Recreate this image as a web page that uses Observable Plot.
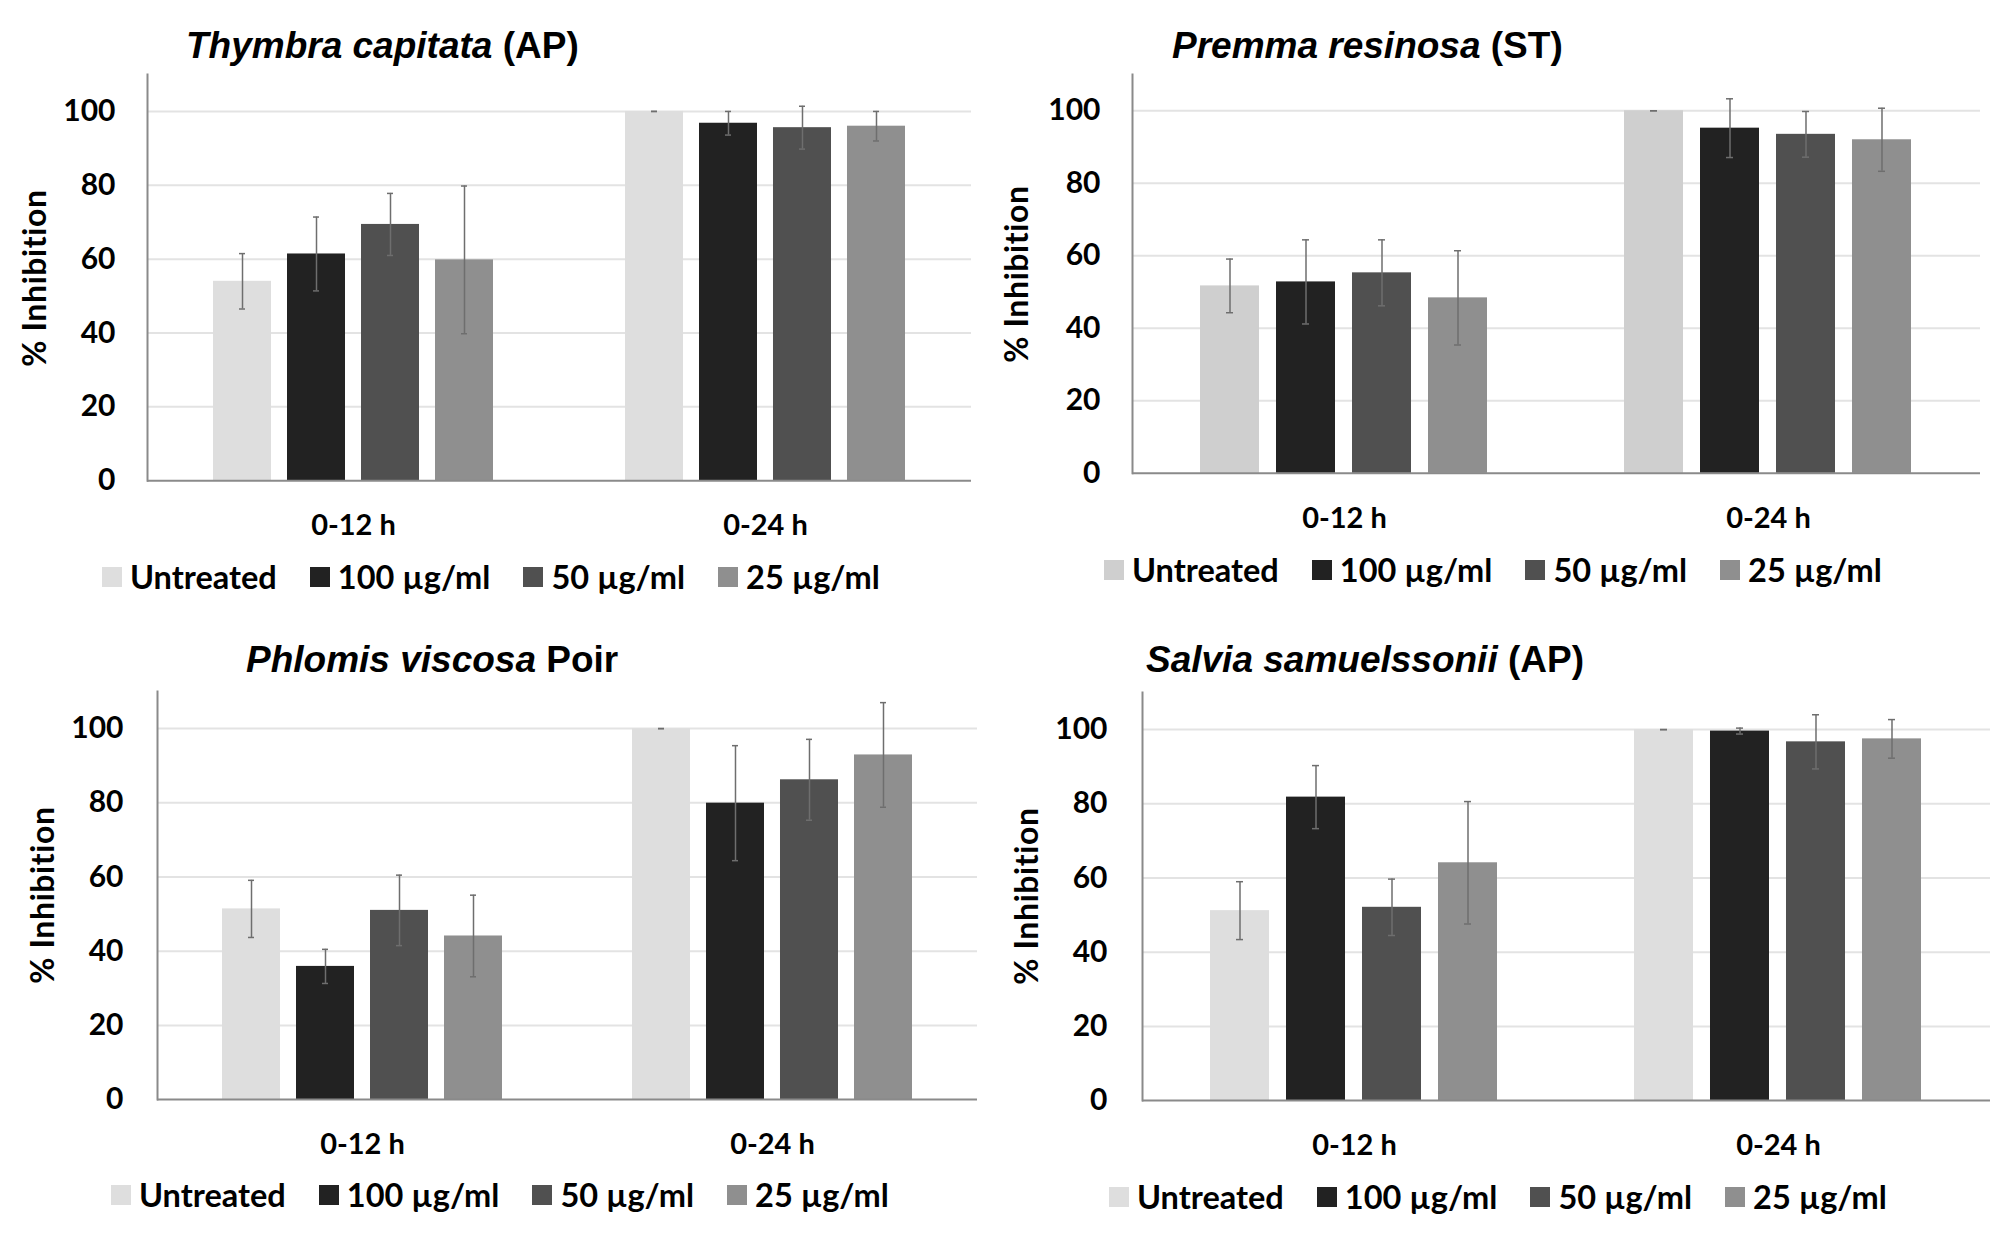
<!DOCTYPE html>
<html><head><meta charset="utf-8">
<script src="https://cdn.jsdelivr.net/npm/d3@7"></script>
<script src="https://cdn.jsdelivr.net/npm/@observablehq/plot@0.6"></script>
<style>
body{margin:0;background:#fff;}
#root{position:relative;width:2008px;height:1234px;overflow:hidden;background:#fff;font-family:Lato,"Open Sans",sans-serif;color:#000;}
.title{position:absolute;font-family:"Liberation Sans",Arial,sans-serif;font-weight:bold;font-size:37px;line-height:1;white-space:nowrap;}
.ylab{position:absolute;font-family:Lato,sans-serif;font-weight:bold;font-size:32px;letter-spacing:0.6px;line-height:1;white-space:nowrap;transform:translate(-50%,-50%) rotate(-90deg);}
.legend{position:absolute;display:flex;align-items:center;gap:33px;font-family:Lato,sans-serif;font-weight:bold;font-size:32.5px;line-height:1;white-space:nowrap;}
.item{display:flex;align-items:center;}
.sw{width:20px;height:20px;margin-right:8px;}
.panel{position:absolute;}
</style></head><body><div id="root"></div><script>
const times = ["0-12 h", "0-24 h"];
const treatments = ["Untreated", "100 µg/ml", "50 µg/ml", "25 µg/ml"];
const yTicks = [0, 20, 40, 60, 80, 100];
const titleItalic = ["Thymbra capitata", "Premma resinosa", "Phlomis viscosa", "Salvia samuelssonii"];
const titlePlain = [" (AP)", " (ST)", " Poir", " (AP)"];
// mean[time][treatment], err[time][treatment]
const thymbraMean = [[54.0, 61.4, 69.4, 59.8], [100, 96.8, 95.6, 96.0]];
const thymbraErr  = [[7.5, 10.0, 8.4, 20.0], [0, 3.2, 5.8, 4.0]];
const premmaMean  = [[51.7, 52.8, 55.3, 48.4], [100, 95.2, 93.5, 92.0]];
const premmaErr   = [[7.4, 11.6, 9.1, 13.0], [0, 8.1, 6.3, 8.7]];
const phlomisMean = [[51.4, 35.9, 51.0, 44.1], [100, 79.9, 86.2, 92.9]];
const phlomisErr  = [[7.7, 4.6, 9.5, 11.0], [0, 15.5, 10.9, 14.1]];
const salviaMean  = [[51.2, 81.8, 52.1, 64.1], [100, 99.6, 96.7, 97.5]];
const salviaErr   = [[7.8, 8.5, 7.6, 16.5], [0, 0.8, 7.3, 5.2]];
const greysA = ["#dedede", "#222222", "#505050", "#8f8f8f"];
const greysB = ["#cfcfcf", "#222222", "#505050", "#8f8f8f"];

const panels = [
  {i:0, mean: thymbraMean, err: thymbraErr, colors: greysA, svgLeft:0, axisX:147, right:971, y0:480, y100:110.7, tickPad:32,
   titleX:186, titleBase:58, ylabX:34, ylabY:278, legX:102, legY:577},
  {i:1, mean: premmaMean, err: premmaErr, colors: greysB, svgLeft:1004, axisX:1131, right:1980, y0:473.3, y100:110.7, tickPad:32,
   titleX:1172, titleBase:58, ylabX:1016, ylabY:274, legX:1104, legY:570},
  {i:2, mean: phlomisMean, err: phlomisErr, colors: greysA, svgLeft:0, axisX:156, right:977, y0:1098.7, y100:727.7, tickPad:34,
   titleX:246, titleBase:672, ylabX:42, ylabY:895, legX:111, legY:1195},
  {i:3, mean: salviaMean, err: salviaErr, colors: greysA, svgLeft:1004, axisX:1142, right:1990, y0:1100, y100:729, tickPad:35,
   titleX:1146, titleBase:672, ylabX:1026, ylabY:896, legX:1109, legY:1197}
];

const root = document.getElementById("root");

for (const cfg of panels) {
  const rows = [];
  times.forEach((t, a) => treatments.forEach((tr, b) => rows.push({time: t, treatment: tr, mean: cfg.mean[a][b], err: cfg.err[a][b]})));
  const k = (cfg.y0 - cfg.y100) / 100;
  const yMax = 110;
  const mt = 10, mb = 75;
  const plotTop = cfg.y0 - yMax * k;
  const width = 1004;
  const height = mt + yMax * k + mb;
  const errStyle = {stroke: "#6e6e6e", strokeWidth: 1.5};
  const chart = Plot.plot({
    width, height,
    marginLeft: cfg.axisX - cfg.svgLeft,
    marginRight: cfg.svgLeft + width - cfg.right,
    marginTop: mt, marginBottom: mb,
    style: {background: "transparent", fontFamily: "Lato, sans-serif", fontWeight: "bold", color: "#000", overflow: "visible"},
    fx: {domain: times, padding: 0},
    x: {domain: treatments, paddingInner: 0.22, paddingOuter: 0.87, axis: null},
    y: {domain: [0, yMax]},
    color: {domain: treatments, range: cfg.colors},
    marks: [
      Plot.gridY(yTicks.slice(1), {stroke: "#e3e3e3", strokeOpacity: 1, strokeWidth: 2}),
      Plot.barY(rows, {fx: "time", x: "treatment", y: "mean", fill: "treatment"}),
      Plot.ruleX(rows, {fx: "time", x: "treatment", y1: d => d.mean - d.err, y2: d => d.mean + d.err, ...errStyle}),
      Plot.tickY(rows, {fx: "time", x: "treatment", y: d => d.mean + d.err, insetLeft: 26, insetRight: 26, ...errStyle}),
      Plot.tickY(rows, {fx: "time", x: "treatment", y: d => d.mean - d.err, insetLeft: 26, insetRight: 26, ...errStyle}),
      Plot.ruleY([0], {stroke: "#8a8a8a", strokeWidth: 2}),
      Plot.frame({anchor: "left", facetAnchor: "left", stroke: "#8a8a8a", strokeWidth: 2}),
      Plot.axisY(yTicks, {tickSize: 0, tickPadding: cfg.tickPad, fontSize: 30, label: null}),
      Plot.axisFx({anchor: "bottom", tickSize: 0, tickPadding: 34, fontSize: 29, label: null})
    ]
  });
  const wrap = document.createElement("div");
  wrap.className = "panel";
  wrap.style.left = cfg.svgLeft + "px";
  wrap.style.top = (plotTop - mt) + "px";
  wrap.appendChild(chart);
  root.appendChild(wrap);

  const title = document.createElement("div");
  title.className = "title";
  title.style.left = cfg.titleX + "px";
  title.style.top = (cfg.titleBase - 0.85 * 37) + "px";
  const it = document.createElement("i");
  it.textContent = titleItalic[cfg.i];
  title.appendChild(it);
  title.appendChild(document.createTextNode(titlePlain[cfg.i]));
  root.appendChild(title);

  const yl = document.createElement("div");
  yl.className = "ylab";
  yl.style.left = cfg.ylabX + "px";
  yl.style.top = cfg.ylabY + "px";
  yl.textContent = "% Inhibition";
  root.appendChild(yl);

  const leg = document.createElement("div");
  leg.className = "legend";
  leg.style.left = cfg.legX + "px";
  leg.style.top = (cfg.legY - 16) + "px";
  leg.style.height = "32px";
  treatments.forEach((tr, b) => {
    const item = document.createElement("div");
    item.className = "item";
    const sw = document.createElement("div");
    sw.className = "sw";
    sw.style.background = cfg.colors[b];
    const tx = document.createElement("span");
    tx.textContent = tr;
    item.appendChild(sw);
    item.appendChild(tx);
    leg.appendChild(item);
  });
  root.appendChild(leg);
}
</script></body></html>
